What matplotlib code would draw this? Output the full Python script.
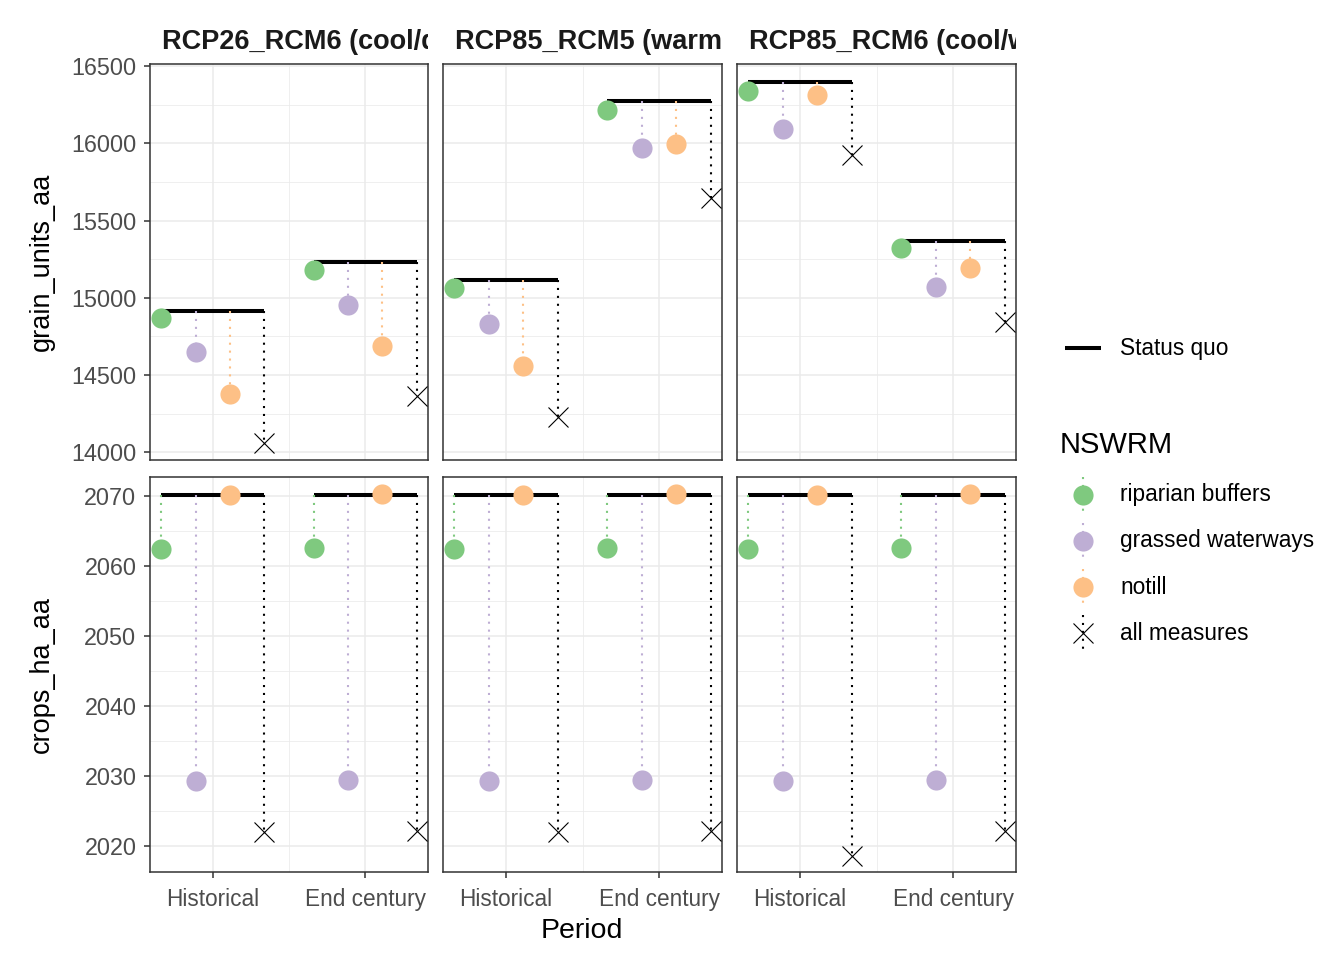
import matplotlib.pyplot as plt
import numpy as np

plt.rcParams['font.family'] = ['Liberation Sans', 'DejaVu Sans']

# facets and categories
scenarios = ["RCP26_RCM6 (cool/dry)", "RCP85_RCM5 (warm/wet)", "RCP85_RCM6 (cool/wet)"]
periods = ["Historical", "End century"]
measures = ["riparian buffers", "grassed waterways", "notill", "all measures"]
colors = ["#7FC97F", "#BEAED4", "#FDC086", "black"]

# grain_units_aa, [scenario][period]
grain_sq = [[14917, 15231], [15118, 16274], [16394, 15367]]
grain_riparian = [[14870, 15180], [15063, 16218], [16336, 15324]]
grain_grassed = [[14650, 14953], [14831, 15972], [16090, 15068]]
grain_notill = [[14379, 14687], [14559, 15994], [16315, 15193]]
grain_all = [[14058, 14364], [14228, 15645], [15925, 14844]]

# crops_ha_aa, [scenario][period]
crops_sq = [[2070.1, 2070.2], [2070.1, 2070.2], [2070.1, 2070.2]]
crops_riparian = [[2062.4, 2062.6], [2062.4, 2062.6], [2062.4, 2062.6]]
crops_grassed = [[2029.3, 2029.4], [2029.3, 2029.4], [2029.3, 2029.4]]
crops_notill = [[2070.15, 2070.25], [2070.15, 2070.25], [2070.15, 2070.25]]
crops_all = [[2022.0, 2022.1], [2022.0, 2022.1], [2018.6, 2022.1]]

grain_ticks = [14000, 14500, 15000, 15500, 16000, 16500]
crops_ticks = [2020, 2030, 2040, 2050, 2060, 2070]

W, H = 1344, 960
fig = plt.figure(figsize=(W / 100, H / 100), dpi=100)

# panel layout in pixels (left, right) and (top, bottom)
cols_px = [(150, 428), (443, 722), (737, 1016)]
rows_px = [(64, 460), (477, 872)]

offsets = np.array([-0.3375, -0.1125, 0.1125, 0.3375])
tick_col = '#4D4D4D'
grid_col = '#EBEBEB'
border_col = '#333333'


def px_axes(l, r, t, b):
    return fig.add_axes([l / W, (H - b) / H, (r - l) / W, (b - t) / H])


def draw_panel(ax, sq, vals):
    x = np.arange(1, len(periods) + 1)
    for p in range(len(periods)):
        xs = x[p] + offsets
        ax.plot([xs[0], xs[-1]], [sq[p], sq[p]], color='black', lw=2.9,
                solid_capstyle='butt', zorder=2)
    for m in range(len(measures)):
        xm = x + offsets[m]
        for p in range(len(periods)):
            ax.plot([xm[p], xm[p]], [sq[p], vals[m][p]], color=colors[m],
                    lw=1.5, linestyle=(0, (1, 2.8)), zorder=3)
        v = [vals[m][p] for p in range(len(periods))]
        if measures[m] == "all measures":
            ax.plot(xm, v, 'x', color='black', ms=15, mew=0.8, ls='none', zorder=4)
        else:
            ax.plot(xm, v, 'o', color=colors[m], ms=14.5, mec='none', ls='none', zorder=4)


rows = [
    ("grain_units_aa", grain_sq, [grain_riparian, grain_grassed, grain_notill, grain_all],
     grain_ticks, (13950, 16513)),
    ("crops_ha_aa", crops_sq, [crops_riparian, crops_grassed, crops_notill, crops_all],
     crops_ticks, (2016.3, 2072.7)),
]

for ri, (label, sq_all, vals_all, ticks, ylim) in enumerate(rows):
    t, b = rows_px[ri]
    step = ticks[1] - ticks[0]
    for ci, scen in enumerate(scenarios):
        l, r = cols_px[ci]
        ax = px_axes(l, r, t, b)
        vals = [[vals_all[m][ci][p] for p in range(2)] for m in range(4)]
        draw_panel(ax, sq_all[ci], vals)
        ax.set_xlim(0.5894, 2.4106)
        ax.set_ylim(*ylim)
        ax.set_xticks([1, 2])
        ax.set_xticks([1.5], minor=True)
        ax.set_yticks(ticks)
        ax.set_yticks([v + step / 2 for v in ticks[:-1]], minor=True)
        ax.grid(which='major', color=grid_col, lw=1.1, zorder=0)
        ax.grid(which='minor', color=grid_col, lw=0.55, zorder=0)
        ax.set_axisbelow(True)
        for s in ax.spines.values():
            s.set_color(border_col)
            s.set_linewidth(1.1)
        ax.tick_params(which='minor', length=0)
        ax.tick_params(which='major', length=4.3, width=1.1, color=border_col,
                       labelcolor=tick_col, labelsize=16.8)
        ax.tick_params(axis='x', pad=7.5, labelsize=16.3)
        ax.tick_params(axis='y', pad=5.5)
        if ri == len(rows) - 1:
            ax.set_xticklabels(periods)
        else:
            ax.tick_params(axis='x', length=0, labelbottom=False)
        if ci == 0:
            ax.set_yticklabels([str(v) for v in ticks])
        else:
            ax.tick_params(axis='y', length=0, labelleft=False)

        if ri == 0:
            # facet strip, text clipped to the panel width
            sax = px_axes(l, r, 20, t)
            sax.axis('off')
            sax.set_xlim(0, 1)
            sax.set_ylim(0, 1)
            sax.text(12 / (r - l), 15 / (t - 20), scen, fontsize=19.5, fontweight='bold',
                     ha='left', va='baseline', color='#1A1A1A', clip_on=True)

    fig.text(42 / W, 1 - (t + b) / 2 / H, label, rotation=90, ha='center', va='center',
             fontsize=19.5, color='black')

fig.text(582 / W, 1 - 931 / H, "Period", ha='center', va='center', fontsize=20.5)

# legend drawn in pixel coordinates
lax = fig.add_axes([1040 / W, 0, (W - 1040) / W, 1])
lax.set_xlim(1040, W)
lax.set_ylim(H, 0)
lax.axis('off')
lax.plot([1065, 1101], [348, 348], color='black', lw=2.9, solid_capstyle='butt')
lax.text(1120, 348, "Status quo", fontsize=16.3, va='center', ha='left')
lax.text(1060, 445, "NSWRM", fontsize=21, va='center', ha='left')
for m, name in enumerate(measures):
    yk = 495 + 46 * m
    lax.plot([1083, 1083], [yk - 18, yk + 18], color=colors[m], lw=1.5,
             linestyle=(0, (1, 2.8)))
    if name == "all measures":
        lax.plot([1083], [yk], 'x', color='black', ms=15, mew=0.8)
    else:
        lax.plot([1083], [yk], 'o', color=colors[m], ms=14.5, mec='none')
    lax.text(1120, yk, name, fontsize=16.3, va='center', ha='left')

fig.savefig("out.png", dpi=100, facecolor='white')
